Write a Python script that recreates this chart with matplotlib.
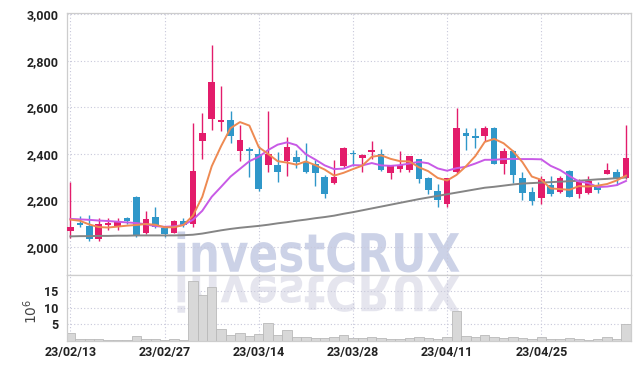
import numpy as np
import matplotlib
matplotlib.use('Agg')
import matplotlib.pyplot as plt
from matplotlib.textpath import TextPath
from matplotlib.patches import PathPatch
from matplotlib.font_manager import FontProperties
from matplotlib.transforms import Affine2D, IdentityTransform


dates = ['23/02/13', '23/02/14', '23/02/15', '23/02/16', '23/02/17',
         '23/02/20', '23/02/21', '23/02/22', '23/02/23', '23/02/24',
         '23/02/27', '23/02/28', '23/03/02', '23/03/03', '23/03/06',
         '23/03/07', '23/03/08', '23/03/09', '23/03/10', '23/03/13',
         '23/03/14', '23/03/15', '23/03/16', '23/03/17', '23/03/20',
         '23/03/21', '23/03/22', '23/03/23', '23/03/24', '23/03/27',
         '23/03/28', '23/03/29', '23/03/30', '23/03/31', '23/04/03',
         '23/04/04', '23/04/05', '23/04/06', '23/04/07', '23/04/10',
         '23/04/11', '23/04/12', '23/04/13', '23/04/14', '23/04/17',
         '23/04/18', '23/04/19', '23/04/20', '23/04/21', '23/04/24',
         '23/04/25', '23/04/26', '23/04/27', '23/04/28', '23/05/02',
         '23/05/03', '23/05/04', '23/05/08', '23/05/09', '23/05/10']

opens = [2067, 2104, 2091, 2033, 2096, 2087, 2123, 2217, 2062, 2130,
         2083, 2062, 2114, 2097, 2454, 2551, 2539, 2546, 2414, 2421,
         2399, 2354, 2353, 2369, 2387, 2367, 2357, 2301, 2274, 2350,
         2402, 2384, 2409, 2400, 2320, 2336, 2331, 2377, 2298, 2240,
         2186, 2324, 2489, 2479, 2479, 2511, 2359, 2413, 2297, 2236,
         2209, 2266, 2237, 2327, 2227, 2233, 2266, 2315, 2324, 2295]
highs = [2280, 2135, 2136, 2125, 2124, 2126, 2129, 2220, 2155, 2172,
         2088, 2115, 2124, 2535, 2577, 2867, 2690, 2583, 2526, 2430,
         2436, 2583, 2409, 2474, 2419, 2446, 2372, 2310, 2376, 2431,
         2418, 2398, 2457, 2420, 2353, 2413, 2393, 2380, 2300, 2270,
         2298, 2597, 2510, 2510, 2520, 2518, 2425, 2415, 2322, 2260,
         2304, 2304, 2306, 2329, 2292, 2304, 2278, 2360, 2335, 2525]
lows = [2040, 2085, 2025, 2027, 2074, 2074, 2100, 2045, 2056, 2082,
        2042, 2060, 2088, 2085, 2378, 2503, 2497, 2446, 2369, 2300,
        2240, 2324, 2279, 2307, 2339, 2318, 2264, 2210, 2269, 2340,
        2348, 2324, 2379, 2326, 2293, 2324, 2321, 2274, 2229, 2171,
        2174, 2320, 2417, 2424, 2455, 2359, 2313, 2275, 2203, 2179,
        2184, 2219, 2234, 2214, 2210, 2230, 2232, 2313, 2268, 2293]
closes = [2088, 2093, 2033, 2100, 2104, 2112, 2112, 2047, 2122, 2085,
          2058, 2112, 2096, 2326, 2490, 2711, 2547, 2479, 2460, 2411,
          2250, 2399, 2324, 2430, 2367, 2321, 2319, 2230, 2300, 2427,
          2398, 2396, 2419, 2329, 2351, 2351, 2391, 2293, 2245, 2204,
          2296, 2510, 2479, 2467, 2510, 2359, 2413, 2310, 2234, 2197,
          2291, 2229, 2295, 2216, 2278, 2283, 2246, 2331, 2292, 2383]

# volume in millions
volumes = [2.2, 0.5, 0.5, 0.4, 0.15, 0.15, 0.1, 1.3, 0.5, 0.4,
           0.2, 0.5, 0.15, 18.1, 13.8, 16.2, 3.4, 1.6, 2.2, 1.3,
           1.9, 5.3, 1.6, 3.1, 1.0, 1.0, 0.7, 0.7, 1.2, 1.6,
           0.8, 0.7, 1.0, 0.8, 0.5, 0.6, 0.7, 1.0, 0.8, 0.6,
           1.0, 8.9, 1.3, 1.1, 1.6, 1.2, 0.8, 1.0, 0.8, 0.6,
           1.0, 0.5, 0.5, 0.7, 0.5, 0.3, 0.4, 1.0, 0.6, 5.0]

ma5 = [2118, 2113, 2097, 2086, 2084, 2088, 2092, 2095, 2099, 2096,
       2085, 2085, 2095, 2135, 2216, 2347, 2434, 2511, 2537, 2522,
       2429, 2400, 2369, 2363, 2354, 2368, 2352, 2333, 2307, 2319,
       2335, 2350, 2388, 2394, 2379, 2369, 2368, 2343, 2326, 2297,
       2286, 2310, 2347, 2391, 2452, 2465, 2446, 2412, 2365, 2303,
       2289, 2252, 2249, 2246, 2262, 2260, 2264, 2271, 2286, 2307]
ma10 = [2121, 2119, 2117, 2114, 2112, 2109, 2106, 2103, 2098, 2090,
        2087, 2089, 2095, 2117, 2156, 2216, 2259, 2303, 2336, 2369,
        2388, 2417, 2440, 2450, 2438, 2399, 2376, 2351, 2335, 2337,
        2352, 2351, 2361, 2351, 2349, 2352, 2359, 2366, 2360, 2338,
        2328, 2339, 2345, 2359, 2375, 2375, 2378, 2379, 2378, 2378,
        2377, 2349, 2331, 2305, 2282, 2275, 2258, 2260, 2266, 2284]
ma_long = [2046, 2047, 2047, 2048, 2048, 2049, 2049, 2050, 2050, 2050,
           2050, 2050, 2051, 2053, 2058, 2065, 2072, 2078, 2083, 2087,
           2091, 2096, 2102, 2107, 2113, 2118, 2124, 2129, 2135, 2143,
           2150, 2158, 2166, 2174, 2182, 2190, 2198, 2206, 2213, 2220,
           2227, 2234, 2241, 2248, 2255, 2259, 2264, 2269, 2273, 2275,
           2277, 2279, 2281, 2283, 2285, 2288, 2291, 2293, 2296, 2299]

price_ticks = [2000, 2200, 2400, 2600, 2800, 3000]
vol_ticks = [5, 10, 15]

W, H = 639, 369
plt.rcParams['font.family'] = ['Roboto', 'DejaVu Sans']

fig = plt.figure(figsize=(W / 100, H / 100), dpi=100)
left, right = 67, 630.7
ax = fig.add_axes([left / W, 1 - 275 / H, (right - left) / W, (275 - 12.7) / H])
axv = fig.add_axes([left / W, 1 - 340.6 / H, (right - left) / W, (340.6 - 275) / H], sharex=ax)

x = np.arange(len(dates))
o = np.array(opens)
c = np.array(closes)
red, blue = '#e31c6b', '#2f97c9'
cols = np.where(c >= o, red, blue)

ax.vlines(x, lows, highs, colors=cols, lw=1.0, zorder=3)
ax.bar(x, np.maximum(np.abs(c - o), 6), 0.7, bottom=np.minimum(o, c),
       color=cols, linewidth=0, zorder=4)

ax.plot(x, ma_long, color='#858585', lw=1.4, zorder=5)
ax.plot(x, ma10, color='#c85ae6', lw=1.4, zorder=5)
ax.plot(x, ma5, color='#ee8a52', lw=1.4, zorder=5)

axv.bar(x, volumes, 1.0, color='#d8d8d8', edgecolor='#b9b9b9', lw=0.6, zorder=2)

# watermark with reflection
fp = FontProperties(family='DejaVu Sans', weight='bold')
tp = TextPath((0, 0), 'investCRUX', size=100, prop=fp)
bb = tp.get_extents()
sx, sy = 282 / bb.width, 41 / bb.height
t_main = Affine2D().translate(-bb.x0, -bb.y0).scale(sx, sy).translate(177.5, H - 272.5)
t_refl = Affine2D().translate(-bb.x0, -bb.y0).scale(sx, -sy * 0.92).translate(177.5, H - 275)
ax.add_patch(PathPatch(tp, transform=t_main + IdentityTransform(),
                       fc='#c4cbe3', ec='none', alpha=0.85, zorder=0.3))
axv.add_patch(PathPatch(tp, transform=t_refl + IdentityTransform(),
                        fc='#e3e3ed', ec='none', alpha=0.9, zorder=0.3))

ax.set_xlim(-0.37, 59.5)
ax.set_ylim(1880, 3007)
axv.set_ylim(0, 20)

grid_kw = dict(color='#c8c8da', lw=0.8, ls=(0, (1, 2)))
for a in (ax, axv):
    a.set_axisbelow(True)
    a.grid(True, **grid_kw)
    for s in a.spines.values():
        s.set_color('#cdcdcd')
        s.set_linewidth(0.9)

ax.set_yticks(price_ticks)
ax.set_yticklabels(['{:,}'.format(v) for v in price_ticks])
ax.tick_params(axis='y', length=0, pad=6, labelsize=9, labelcolor='#222222')
ax.tick_params(axis='x', length=0, labelbottom=False)
for lab in ax.get_yticklabels():
    lab.set_fontweight('bold')

axv.set_yticks(vol_ticks)
axv.set_xticks(x[::10])
axv.set_xticklabels(dates[::10])
axv.tick_params(length=0, labelsize=9, labelcolor='#222222')
axv.tick_params(axis='y', pad=6)
axv.tick_params(axis='x', pad=4)
for lab in axv.get_yticklabels() + axv.get_xticklabels():
    lab.set_fontweight('bold')
axv.set_ylabel('$10^6$', fontsize=10, color='#444444', family='DejaVu Sans')
axv.yaxis.set_label_coords(-0.048, 0.45)

fig.savefig('out.png', dpi=100)
